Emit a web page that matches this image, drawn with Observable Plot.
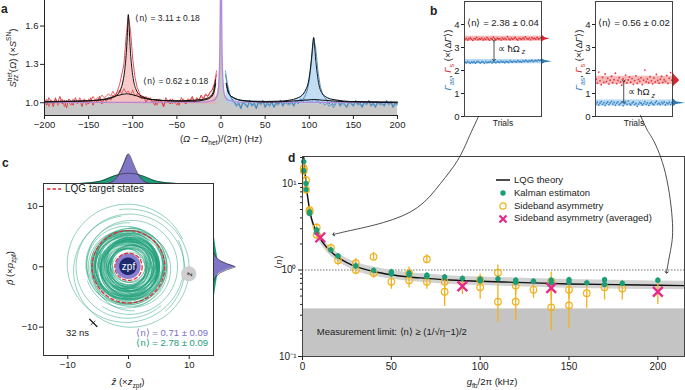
<!DOCTYPE html>
<html><head><meta charset="utf-8">
<script src="https://cdn.jsdelivr.net/npm/d3@7"></script>
<script src="https://cdn.jsdelivr.net/npm/@observablehq/plot@0.6"></script>
<style>
body{margin:0;background:#fff;}
#fig{position:relative;width:685px;height:390px;overflow:hidden;font-family:"Liberation Sans",Arial,sans-serif;color:#222;}
.lbl{position:absolute;font-size:9.5px;white-space:nowrap;transform:translate(-50%,-50%);line-height:1;}
.rot{transform:translate(-50%,-50%) rotate(-90deg);}
.letter{position:absolute;font-weight:bold;font-size:12px;line-height:1;}
sub,sup{font-size:70%;line-height:0;}
.ss{display:inline-flex;flex-direction:column;font-size:68%;line-height:0.95;vertical-align:middle;}
.leg{position:absolute;font-size:9.5px;line-height:12.8px;white-space:nowrap;}
.leg svg{vertical-align:middle;margin-right:4px;}
</style></head><body><div id="fig"></div>
<script>
// ---------------- DATA ----------------
// Panel a: heterodyne spectra, x grid 2.5 Hz
const redGridStart = -200, blueGridStart = 5, gridStep = 2.5;
const redHigh = [1.02,0.98,1.04,1.01,0.97,1.03,1.00,1.05,0.99,1.02,0.96,1.03,1.01,0.98,1.04,1.00,1.02,0.97,1.03,1.01,0.99,1.04,0.98,1.02,1.00,1.05,0.99,1.03,1.01,
  1.04,1.02,1.06,1.05,1.09,1.14,1.22,1.30,1.52,1.68,1.56,1.34,1.2,1.12,1.08,1.03,1.05,1.00,1.04,1.02,
  1.01,0.98,1.03,1.00,1.02,0.97,1.04,1.01,0.99,1.03,1.00,1.02,0.98,1.04,1.01,0.99,1.03,1.02,1.05,1.00,1.04,1.02,1.06,1.03,1.07,1.05,1.08,1.1,1.14,1.22];
const redLow = [1.00,1.03,0.97,1.02,0.99,1.04,0.98,1.01,1.03,0.97,1.02,1.00,0.98,1.03,1.01,0.99,1.04,1.00,1.02,0.98,1.03,1.01,1.05,1.02,1.04,1.03,1.06,1.04,1.05,
  1.07,1.05,1.09,1.06,1.08,1.10,1.07,1.11,1.08,1.09,1.06,1.10,1.05,1.07,1.04,1.06,1.03,1.05,1.02,1.04,
  1.00,1.02,0.98,1.03,1.01,0.97,1.02,1.00,1.03,0.99,1.01,0.98,1.02,1.00,1.03,0.99,1.02,1.01,1.04,1.00,1.03,1.02,1.05,1.03,1.06,1.05,1.08,1.1,1.15,1.25];
const blueHigh = [1.22,1.12,1.06,1.03,1.01,0.98,1.00,0.96,1.01,0.99,
  0.97,1.02,0.98,1.00,0.96,1.01,0.99,1.02,0.97,1.00,
  0.98,1.01,0.97,1.00,0.99,1.02,0.98,1.01,1.00,0.99,
  1.01,0.98,1.02,1.00,1.03,1.02,1.05,1.09,1.17,1.32,
  1.51,1.42,1.24,1.13,1.07,1.04,1.02,0.99,1.01,0.98,
  1.00,1.02,0.98,1.01,0.99,0.97,1.01,1.00,0.98,1.02,
  0.99,1.00,0.97,1.01,0.99,1.02,0.98,1.00,0.97,1.01,
  0.99,1.00,0.98,1.02,0.99,1.01,0.97,1.00,0.99];
const blueLow = [1.25,1.14,1.07,1.02,1.00,0.97,0.99,0.95,1.00,0.98,
  0.96,1.01,0.97,0.99,0.95,1.00,0.98,1.01,0.96,0.99,
  0.97,1.00,0.96,0.99,0.98,1.01,0.97,1.00,0.99,0.98,
  1.00,0.97,1.01,0.99,1.02,1.00,1.03,1.01,1.02,1.00,
  1.03,1.01,1.02,0.99,1.01,0.98,1.00,0.97,0.99,0.96,
  0.99,1.01,0.97,1.00,0.98,0.96,1.00,0.99,0.97,1.01,
  0.98,0.99,0.96,1.00,0.98,1.01,0.97,0.99,0.96,1.00,
  0.98,0.99,0.97,1.01,0.98,1.00,0.96,0.99,0.98];
const fitRedHighX = [-200,-170,-150,-135,-125,-118,-114,-111,-109,-107,-106,-105,-104,-103,-101,-99,-96,-92,-86,-78,-65,-50,-35,-22,-14,-9,-6];
const fitRedHighY = [1.01,1.012,1.015,1.022,1.035,1.06,1.10,1.17,1.26,1.42,1.55,1.69,1.58,1.44,1.27,1.17,1.10,1.06,1.04,1.025,1.018,1.015,1.018,1.025,1.04,1.08,1.18];
const fitRedLowX = [-200,-170,-150,-135,-125,-118,-112,-107,-102,-96,-90,-82,-72,-60,-45,-30,-20,-12,-8,-6];
const fitRedLowY = [1.005,1.01,1.015,1.025,1.04,1.055,1.065,1.07,1.065,1.055,1.04,1.028,1.02,1.015,1.012,1.012,1.02,1.04,1.08,1.15];
const fitBlueHighX = [6,9,14,22,35,50,65,78,86,92,96,99,101,103,104,105,106,107,109,111,114,118,124,132,145,165,200];
const fitBlueHighY = [1.15,1.07,1.04,1.02,1.012,1.01,1.012,1.02,1.035,1.06,1.10,1.16,1.25,1.38,1.46,1.51,1.45,1.36,1.23,1.14,1.08,1.05,1.03,1.02,1.01,1.008,1.005];
const fitBlueLowX = [6,9,14,22,35,50,70,85,95,105,115,125,140,160,200];
const fitBlueLowY = [1.15,1.07,1.04,1.02,1.01,1.005,1.008,1.015,1.02,1.025,1.02,1.015,1.008,1.005,1.0];
const shotX = [-200,-20,-10,-5,-3,-2,-1,-0.5,0,0.5,1,2,3,5,10,20,200];
const shotY = [0.99,0.995,1.0,1.05,1.12,1.25,1.6,1.95,1.95,1.95,1.6,1.25,1.12,1.05,1.0,0.995,0.99];
const centralX = [-200,-20,-8,-4,-2,-1,-0.5,0,0.5,1,2,4,8,20,200];
const centralY = [1.0,1.005,1.02,1.06,1.2,1.5,1.9,2.0,1.9,1.5,1.2,1.06,1.02,1.005,1.0];
const aTicksX = [-200,-150,-100,-50,0,50,100,150,200];
const aTicksY = [1.0,1.3,1.6];

// Panel b: scattering rates per trial
const bLeftRed = [3.35,3.40,3.33,3.38,3.42,3.36,3.31,3.39,3.37,3.44,3.34,3.38,3.36,3.41,3.33,3.39,3.35,3.43,3.37,3.32,3.40,3.36,3.45,3.38,3.34,3.41,3.37,3.39,3.33,3.42,3.36,3.40,3.35,3.47,3.38,3.34,3.41,3.36,3.39,3.44,3.37,3.33,3.40,3.38,3.35,3.42,3.37,3.46,3.39,3.36,3.41,3.34,3.43,3.38,3.40,3.36,3.44,3.37,3.39,3.42];
const bLeftBlue = [2.36,2.33,2.39,2.35,2.31,2.37,2.34,2.38,2.32,2.36,2.40,2.35,2.33,2.38,2.36,2.31,2.39,2.34,2.37,2.35,2.40,2.33,2.38,2.36,2.34,2.39,2.37,2.35,2.41,2.36,2.38,2.34,2.40,2.37,2.35,2.42,2.38,2.36,2.41,2.39,2.37,2.43,2.38,2.40,2.36,2.42,2.39,2.44,2.41,2.38,2.43,2.40,2.45,2.39,2.42,2.44,2.41,2.46,2.43,2.45];
const bRightRed = [1.62,1.45,1.93,1.55,1.38,1.70,1.48,1.85,1.52,1.66,1.41,1.58,1.75,1.47,1.60,1.88,1.43,1.57,1.69,1.50,1.36,1.63,1.54,1.80,1.46,1.59,1.72,1.49,1.65,1.40,1.56,1.77,1.44,1.61,1.53,1.68,1.39,1.58,2.02,1.51,1.64,1.47,1.73,1.55,1.42,1.67,1.50,1.83,1.57,1.45,1.62,1.74,1.48,1.60,1.53,1.79,1.44,1.66,1.91,1.58];
const bRightBlue = [0.55,0.62,0.50,0.58,0.65,0.53,0.60,0.48,0.57,0.63,0.52,0.59,0.66,0.54,0.61,0.49,0.58,0.64,0.51,0.57,0.62,0.47,0.56,0.60,0.53,0.67,0.55,0.50,0.59,0.63,0.52,0.57,0.45,0.54,0.61,0.58,0.50,0.56,0.64,0.53,0.59,0.48,0.57,0.62,0.55,0.51,0.60,0.66,0.54,0.58,0.52,0.61,0.56,0.63,0.50,0.59,0.55,0.62,0.53,0.60];
const bLeftBands = [{lo:3.27,hi:3.49,c:"red"},{lo:2.29,hi:2.48,c:"blue"}];
const bRightBands = [{lo:1.40,hi:1.75,c:"red"},{lo:0.45,hi:0.72,c:"blue"}];
const bLeftRedDensY = [3.23,3.32,3.37,3.43,3.57], bLeftRedDensW = [0,2.5,6.5,2.5,0];
const bLeftBlueDensY = [2.26,2.34,2.38,2.43,2.51], bLeftBlueDensW = [0,3,8.5,3,0];
const bRightRedDensY = [1.2,1.35,1.45,1.52,1.56,1.6,1.68,1.8,1.95], bRightRedDensW = [0,1.5,3.5,5,5.5,5,3.5,1.5,0];
const bRightBlueDensY = [0.40,0.52,0.58,0.64,0.80], bRightBlueDensW = [0,3,10,3,0];
const bTitles = ["⟨n⟩ = 2.38 ± 0.04", "⟨n⟩ = 0.56 ± 0.02"];
const bTicks = [0,1,2,3,4];

// Panel c: phase-space loops [r start, r end, centre z, centre p]
const loops = [[3.0,3.6,0.3,-0.2],[3.6,4.4,-0.2,0.3],[4.4,5.0,0.4,0.1],[5.0,4.2,-0.3,-0.4],[4.2,3.4,0.1,0.5],[3.4,4.6,-0.5,0.2],[4.6,5.6,0.2,-0.3],[5.6,5.2,0.5,0.4],[5.2,4.0,-0.4,0.1],[4.0,3.2,0.3,-0.5],[3.2,3.8,-0.1,0.4],[3.8,4.8,0.6,0.2],[4.8,5.8,-0.2,-0.6],[5.8,6.4,0.1,0.3],[6.4,5.4,-0.6,0.2],[5.4,4.4,0.4,-0.2],[4.4,3.6,-0.3,-0.3],[3.6,2.8,0.2,0.4],[2.8,3.4,-0.4,-0.1],[3.4,4.2,0.5,-0.4],[4.2,5.2,-0.1,0.5],[5.2,6.0,0.3,0.2],[6.0,6.8,-0.3,-0.2],[6.8,6.2,0.6,-0.5],[6.2,5.0,-0.5,0.6],[5.0,4.6,0.2,-0.1],[4.6,3.9,-0.2,0.2],[3.9,4.9,0.4,0.6],[4.9,5.5,-0.6,-0.3],[5.5,4.7,0.1,-0.6],[4.7,3.8,0.5,0.3],[3.8,3.0,-0.3,0.1],[3.0,4.0,0.2,-0.3],[4.0,5.3,-0.4,0.4],[5.3,6.3,0.4,0.0],[6.3,7.0,-0.2,0.3],
  [2.2,2.9,0.2,0.1],[2.9,3.5,-0.3,-0.2],[3.5,3.1,0.4,0.3],[3.1,2.5,-0.2,0.4],[2.5,3.3,0.1,-0.4],[3.3,4.1,0.5,0.0],[4.1,3.7,-0.5,-0.3],[3.7,4.5,0.0,0.6],[4.5,5.1,0.3,-0.2],[5.1,5.7,-0.4,0.1],[5.7,5.0,0.2,0.5],[5.0,4.3,0.6,-0.1],[4.3,4.9,-0.1,-0.5],[4.9,5.9,0.0,0.2],[5.9,6.5,0.3,-0.3],[6.5,5.8,-0.4,0.4],[5.8,4.8,0.1,0.0],[4.8,4.1,-0.2,-0.4],[4.1,3.3,0.4,0.2],[3.3,2.6,0.0,-0.1],[2.6,3.8,-0.3,0.3],[3.8,4.4,0.2,0.4],[4.4,5.4,-0.5,-0.1],[5.4,6.1,0.4,0.3],[6.1,5.6,0.0,-0.5],[5.6,4.5,-0.3,0.2],[4.5,3.5,0.5,-0.3],[3.5,4.3,-0.1,0.0],[4.3,5.0,0.2,-0.6],[5.0,5.5,-0.6,0.5],
  [7.0,8.2,0.3,0.2],[8.2,9.4,0.0,-0.2],[9.4,10.1,-0.3,0.4],[10.1,9.0,0.2,-0.5]];
const targetRadii = [2.25, 6.0];
const zpfRadius = 1.45, cooledRadius = 2.1;
const probe = {z:10.0, p:-1.25, r:1.25};
const topGreenX = [-8,-6,-4.5,-3.5,-2.5,-1.5,0,1.5,2.5,3.5,4.5,6,8], topGreenH = [0,0.15,0.4,0.8,1.2,1.5,1.7,1.5,1.2,0.8,0.4,0.15,0];
const topPurpleX = [-3.5,-2.5,-1.8,-1.2,-0.7,-0.3,0,0.3,0.7,1.2,1.8,2.5,3.5], topPurpleH = [0,0.4,1.2,2.3,3.5,4.5,4.9,4.5,3.5,2.3,1.2,0.4,0];
const rightGreenY = [-7,-5,-3.5,-2,-1,0,1,2,3.5,5,7], rightGreenW = [0,0.15,0.35,0.6,0.75,0.8,0.75,0.6,0.35,0.15,0];
const rightPurpleY = [-2.5,-1.6,-1.0,-0.5,-0.2,0,0.2,0.5,1.0,1.6,2.5], rightPurpleW = [0,0.4,1.1,2.2,3.1,3.6,3.1,2.2,1.1,0.4,0];
const cTexts = ["⟨n⟩ = 0.71 ± 0.09", "⟨n⟩ = 2.78 ± 0.09"];

// Panel d: occupation vs feedback gain
const kalX = [0.7,0.7,2,2,4,4,8,8,16,20,30,40,50,50,60,60,70,70,80,90,100,100,110,120,120,130,140,140,150,150,160,170,170,180,200];
const kalY = [17.9,14,10,8.5,4.7,4.5,2.9,2.7,1.7,1.45,1.11,0.99,0.95,0.9,0.92,0.88,0.87,0.84,0.83,0.8,0.78,0.75,0.79,0.76,0.72,0.74,0.76,0.71,0.77,0.72,0.71,0.77,0.68,0.7,0.76];
const sbX = [0.7,0.7,2,2,4,4,8,8,16,20,30,30,40,40,50,60,60,70,70,80,80,100,100,110,110,120,120,130,140,140,150,150,160,170,180];
const sbY = [15,14,10.9,8.5,4.9,4.7,3.1,2.55,1.8,1.3,1.2,1.0,1.42,0.92,0.73,0.92,0.76,1.33,0.73,0.73,0.56,0.77,0.63,0.93,0.43,0.66,0.43,0.59,0.74,0.37,0.59,0.39,0.54,0.63,0.61];
const sbLo = [13,12.5,9.5,7.5,4.4,4.2,2.8,2.3,1.6,1.12,1.05,0.88,1.3,0.8,0.6,0.78,0.62,1.2,0.6,0.58,0.38,0.64,0.46,0.8,0.25,0.52,0.26,0.47,0.55,0.2,0.46,0.21,0.36,0.45,0.45];
const sbHi = [16.5,15.5,12,9.5,5.4,5.2,3.4,2.8,2.0,1.48,1.36,1.12,1.6,1.05,0.88,1.08,0.9,1.5,0.86,0.88,0.68,0.9,0.8,1.14,0.68,0.8,0.64,0.72,0.95,0.77,0.73,0.8,0.7,0.8,0.76];
const avgX = [10,90,140,200], avgY = [2.38,0.65,0.62,0.56], avgLo = [2.2,0.52,0.45,0.4], avgHi = [2.6,0.8,0.8,0.72];
const thX = [0.5,1,1.5,2,3,4,5,6,8,10,12,15,20,25,30,40,50,60,70,80,100,120,150,180,215];
const thY = [22,17,13,10,6.8,5.0,4.0,3.4,2.7,2.3,2.0,1.7,1.4,1.22,1.1,0.96,0.88,0.83,0.8,0.77,0.74,0.72,0.69,0.675,0.66];
const thLo = [20,15.5,11.8,9.1,6.2,4.5,3.6,3.05,2.42,2.05,1.78,1.51,1.24,1.08,0.97,0.85,0.78,0.74,0.71,0.685,0.66,0.64,0.615,0.6,0.59];
const thHi = [24,18.6,14.2,11,7.4,5.5,4.4,3.75,2.98,2.55,2.22,1.89,1.56,1.36,1.23,1.08,0.99,0.93,0.9,0.865,0.83,0.81,0.775,0.755,0.74];
const measLimit = 0.355;
const dTicksX = [0,50,100,150,200];
const dMajor = [0.1,1,10], dMajorLabels = ["10⁻¹","10⁰","10¹"];
const dMinor = [0.2,0.3,0.4,0.5,0.6,0.7,0.8,0.9,2,3,4,5,6,7,8,9,20];

// connector arrows b -> d (figure pixel space)
const arrowLeft = [[478,116],[471,131],[467,140],[457,160],[440,183],[417,207],[383,222],[350,230],[333,234]];
const arrowRight = [[640,115],[647,130],[653,140],[665,173],[672,223],[670,250],[666,272]];

// ---------------- HELPERS ----------------
const fig = document.getElementById("fig");
const FONT = "Liberation Sans, Arial, sans-serif";
const baseStyle = {fontFamily: FONT, fontSize: "9.5px", background: "transparent", color: "#222", overflow: "visible"};
function place(el, left, top) { el.style.position = "absolute"; el.style.left = left + "px"; el.style.top = top + "px"; fig.append(el); return el; }
function html(cls, h, x, y, extra = "") { const d = document.createElement("div"); d.className = cls; d.innerHTML = h; d.style.left = x + "px"; d.style.top = y + "px"; if (extra) d.style.cssText += extra; fig.append(d); return d; }
const zip = (xs, ys, kx = "x", ky = "y") => xs.map((v, i) => ({[kx]: v, [ky]: ys[i]}));
const gridSeries = (start, vals) => vals.map((v, i) => ({x: start + i * gridStep, y: v}));
function spiral(id, r0, r1, cx, cy, ph) { const pts = []; for (let k = 0; k <= 60; k++) { const t = k / 60, a = ph - 2 * Math.PI * t, r = r0 + (r1 - r0) * t; pts.push({id, x: cx + r * Math.cos(a), y: cy + r * Math.sin(a)}); } return pts; }
function disk(cx, cy, r) { return d3.range(0, 81).map(k => { const x = cx - r + 2 * r * k / 80; const h = Math.sqrt(Math.max(0, r * r - (x - cx) ** 2)); return {x, y1: cy - h, y2: cy + h}; }); }

const RED = "#d9262c", BLUE = "#2b7bba", GREEN = "#1b9e77", PURPLE = "#7b70c2";

// ---------------- PANEL A ----------------
{
  const fitRH = zip(fitRedHighX, fitRedHighY), fitRL = zip(fitRedLowX, fitRedLowY);
  const fitBH = zip(fitBlueHighX, fitBlueHighY), fitBL = zip(fitBlueLowX, fitBlueLowY);
  const p = Plot.plot({
    width: 405, height: 135, marginLeft: 44, marginRight: 8, marginTop: 0, marginBottom: 20,
    style: baseStyle,
    x: {domain: [-200, 200]}, y: {domain: [0.9, 1.8]},
    marks: [
      Plot.areaY(zip(shotX, shotY), {x: "x", y1: 0.9, y2: "y", fill: "#c8c8c8", clip: true}),
      Plot.areaY(fitRL, {x: "x", y1: 0.99, y2: "y", fill: "#f3b0b0", fillOpacity: 0.35, curve: "monotone-x"}),
      Plot.areaY(fitRH, {x: "x", y1: 0.99, y2: "y", fill: "#f2a9a9", fillOpacity: 0.6, curve: "monotone-x"}),
      Plot.areaY(fitBH, {x: "x", y1: 0.99, y2: "y", fill: "#a9cfee", fillOpacity: 0.7, curve: "monotone-x"}),
      Plot.line(gridSeries(redGridStart, redLow), {x: "x", y: "y", stroke: "#e8474a", strokeWidth: 0.8}),
      Plot.line(gridSeries(redGridStart, redHigh), {x: "x", y: "y", stroke: RED, strokeWidth: 0.8}),
      Plot.line(gridSeries(blueGridStart, blueLow), {x: "x", y: "y", stroke: "#4a90cc", strokeWidth: 0.8}),
      Plot.line(gridSeries(blueGridStart, blueHigh), {x: "x", y: "y", stroke: BLUE, strokeWidth: 0.8}),
      Plot.line(zip(centralX, centralY), {x: "x", y: "y", stroke: "#b08ad8", strokeWidth: 1.3, clip: true, curve: "monotone-x"}),
      Plot.line(fitRL, {x: "x", y: "y", stroke: "#111", strokeWidth: 1, curve: "monotone-x"}),
      Plot.line(fitRH, {x: "x", y: "y", stroke: "#111", strokeWidth: 1, curve: "monotone-x"}),
      Plot.line(fitBL, {x: "x", y: "y", stroke: "#111", strokeWidth: 1, curve: "monotone-x"}),
      Plot.line(fitBH, {x: "x", y: "y", stroke: "#111", strokeWidth: 1, curve: "monotone-x"}),
      Plot.text(["⟨n⟩ = 3.11 ± 0.18"], {x: -97, y: 1.66, textAnchor: "start", fontSize: 8.5}),
      Plot.text(["⟨n⟩ = 0.62 ± 0.18"], {x: -88, y: 1.17, textAnchor: "start", fontSize: 8.5}),
      Plot.ruleX([-200], {y1: 0.9, y2: 1.8, stroke: "#222"}),
      Plot.ruleY([0.9], {stroke: "#222"}),
      Plot.axisX({ticks: aTicksX, tickSize: 4, tickPadding: 2, label: null}),
      Plot.axisY({ticks: aTicksY, tickSize: 4, tickPadding: 2, tickFormat: ".1f", label: null})
    ]
  });
  place(p, 0, 0);
}

// ---------------- PANEL B ----------------
function panelB(red, blue, bands, rd, bd, title, arrowT, arrowY, propY) {
  const n = red.length;
  const fills = {red: "#f5b8b8", blue: "#b8d8f1"};
  return Plot.plot({
    width: 125, height: 135, marginLeft: 34, marginRight: 14, marginTop: 1, marginBottom: 19,
    style: baseStyle,
    x: {domain: [0, n], axis: null}, y: {domain: [0, 5]},
    marks: [
      Plot.rect(bands, {x1: 0, x2: n, y1: "lo", y2: "hi", fill: d => fills[d.c]}),
      Plot.dot(red.map((v, i) => ({t: i + 0.5, v})), {x: "t", y: "v", r: 0.9, fill: "#e3353b", stroke: null}),
      Plot.dot(blue.map((v, i) => ({t: i + 0.5, v})), {x: "t", y: "v", r: 0.9, fill: "#3a86c8", stroke: null}),
      Plot.areaX(rd, {y: "y", x1: n, x2: d => n + d.w, fill: RED, curve: "linear"}),
      Plot.areaX(bd, {y: "y", x1: n, x2: d => n + d.w, fill: BLUE, curve: "linear"}),
      Plot.link([{t: arrowT, a: arrowY[0], b: arrowY[1]}], {x1: "t", x2: "t", y1: "a", y2: "b", stroke: "#222", strokeWidth: 0.8, markerStart: "arrow", markerEnd: "arrow"}),
      Plot.text(["∝ ħΩ"], {x: arrowT + 3, y: propY, textAnchor: "start", fontSize: 9.5}),
      Plot.text(["z"], {x: arrowT + 3, y: propY, dx: 24, dy: 3, textAnchor: "start", fontSize: 7, fontStyle: "italic"}),
      Plot.text([title], {frameAnchor: "top", dy: 18, fontSize: 9.5}),
      Plot.text(["Trials"], {frameAnchor: "bottom", dy: 9, fontSize: 8.5}),
      Plot.frame({stroke: "#444"}),
      Plot.axisY({ticks: bTicks, tickSize: 3, tickPadding: 2, tickFormat: "d", label: null})
    ]
  });
}
place(panelB(bLeftRed, bLeftBlue, bLeftBands, zip(bLeftRedDensY, bLeftRedDensW, "y", "w"), zip(bLeftBlueDensY, bLeftBlueDensW, "y", "w"), bTitles[0], 23, [3.3, 2.45], 2.95), 430, 0);
place(panelB(bRightRed, bRightBlue, bRightBands, zip(bRightRedDensY, bRightRedDensW, "y", "w"), zip(bRightBlueDensY, bRightBlueDensW, "y", "w"), bTitles[1], 22, [1.55, 0.62], 1.05), 561, 0);

// ---------------- PANEL C ----------------
{
  const traj = loops.flatMap((l, i) => spiral(i, l[0], l[1], l[2], l[3], i * 1.3));
  const circles = targetRadii.flatMap((r, i) => spiral("c" + i, r, r, 0, 0, 0));
  const yTop = 13.8, xRight = 14;
  const p = Plot.plot({
    width: 260, height: 250, marginLeft: 43, marginRight: 47, marginTop: 43, marginBottom: 35,
    style: baseStyle,
    x: {domain: [-14, 14]}, y: {domain: [-14.7, 13.8]},
    marks: [
      Plot.line(traj, {x: "x", y: "y", z: "id", stroke: GREEN, strokeWidth: 0.55, strokeOpacity: 0.85, curve: "natural"}),
      Plot.areaY(disk(0, 0, cooledRadius), {x: "x", y1: "y1", y2: "y2", fill: "#8a7fd0"}),
      Plot.areaY(disk(0, 0, zpfRadius), {x: "x", y1: "y1", y2: "y2", fill: "#1d2a6e"}),
      Plot.line(circles, {x: "x", y: "y", z: "id", stroke: "#e8282e", strokeWidth: 1.2, strokeDasharray: "3.5,2.5"}),
      Plot.text(["zpf"], {x: 0, y: 0, fill: "white", fontSize: 10}),
      Plot.areaY(disk(probe.z, probe.p, probe.r), {x: "x", y1: "y1", y2: "y2", fill: "#cfcfcf"}),
      Plot.text(["ẑ"], {x: probe.z, y: probe.p, rotate: -90, fontSize: 8, fontStyle: "italic"}),
      Plot.areaY(zip(topGreenX, topGreenH, "x", "h"), {x: "x", y1: yTop, y2: d => yTop + d.h, fill: GREEN}),
      Plot.areaY(zip(topPurpleX, topPurpleH, "x", "h"), {x: "x", y1: yTop, y2: d => yTop + d.h, fill: "#7f77c6"}),
      Plot.line(zip(topGreenX, topGreenH, "x", "h"), {x: "x", y: d => yTop + d.h, stroke: "#222", strokeWidth: 0.6, curve: "natural"}),
      Plot.line(zip(topPurpleX, topPurpleH, "x", "h"), {x: "x", y: d => yTop + d.h, stroke: "#222", strokeWidth: 0.6, curve: "natural"}),
      Plot.areaX(zip(rightGreenY, rightGreenW, "y", "w"), {y: "y", x1: xRight, x2: d => xRight + d.w, fill: GREEN}),
      Plot.areaX(zip(rightPurpleY, rightPurpleW, "y", "w"), {y: "y", x1: xRight, x2: d => xRight + d.w, fill: "#7f77c6"}),
      Plot.line(zip(rightPurpleY, rightPurpleW, "y", "w"), {x: d => xRight + d.w, y: "y", stroke: "#222", strokeWidth: 0.6}),
      Plot.line([{x: -6.4, y: -8.7}, {x: -5.2, y: -9.9}], {x: "x", y: "y", stroke: "#222", strokeWidth: 1.3}),
      Plot.line([{x: -6.2, y: -9.6}, {x: -5.5, y: -9.0}], {x: "x", y: "y", stroke: "#222", strokeWidth: 0.8}),
      Plot.text(["32 ns"], {x: -8.4, y: -11.0, fontSize: 9.5}),
      Plot.text([cTexts[0]], {x: 13.1, y: -10.9, textAnchor: "end", fill: PURPLE, fontSize: 9.5}),
      Plot.text([cTexts[1]], {x: 13.1, y: -12.6, textAnchor: "end", fill: GREEN, fontSize: 9.5}),
      Plot.frame({stroke: "#333"}),
      Plot.axisX({ticks: [-10, 0, 10], tickSize: 4, tickPadding: 2, label: null}),
      Plot.axisY({ticks: [-10, 0, 10], tickSize: 4, tickPadding: 2, label: null})
    ]
  });
  place(p, 0, 140);
}

// ---------------- PANEL D ----------------
{
  const kal = zip(kalX, kalY);
  const sb = sbX.map((x, i) => ({x, y: sbY[i], lo: sbLo[i], hi: sbHi[i]}));
  const avg = avgX.map((x, i) => ({x, y: avgY[i], lo: avgLo[i], hi: avgHi[i]}));
  const th = thX.map((x, i) => ({x, y: thY[i], lo: thLo[i], hi: thHi[i]}));
  const p = Plot.plot({
    width: 415, height: 250, marginLeft: 32, marginRight: 1, marginTop: 16, marginBottom: 34,
    style: {...baseStyle, fontSize: "10px"},
    x: {domain: [0, 215]}, y: {type: "log", domain: [0.1, 20.5]},
    marks: [
      Plot.rect([measLimit], {x1: 0, x2: 215, y1: 0.1, y2: d => d, fill: "#c4c4c4"}),
      Plot.ruleY([1], {stroke: "#333", strokeWidth: 0.7, strokeDasharray: "1.5,1.5"}),
      Plot.areaY(th, {x: "x", y1: "lo", y2: "hi", fill: "#d2d2d2", curve: "monotone-x", clip: true}),
      Plot.line(th, {x: "x", y: "y", stroke: "#111", strokeWidth: 1.4, curve: "monotone-x", clip: true}),
      Plot.ruleX(sb, {x: "x", y1: "lo", y2: "hi", stroke: "#f0b21b", strokeWidth: 1.3}),
      Plot.ruleX(avg, {x: "x", y1: "lo", y2: "hi", stroke: "#f0b21b", strokeWidth: 1.3}),
      Plot.dot(sb, {x: "x", y: "y", r: 3.3, stroke: "#f0b21b", strokeWidth: 1.2, fill: "none"}),
      Plot.ruleX(kal, {x: "x", y1: d => d.y * 0.93, y2: d => d.y * 1.07, stroke: GREEN, strokeWidth: 1.2}),
      Plot.dot(kal, {x: "x", y: "y", r: 2.7, fill: GREEN, stroke: null}),
      Plot.dot(avg, {x: "x", y: "y", r: 4.5, symbol: "times", stroke: "#e7298a", strokeWidth: 2.4}),
      Plot.text(["Measurement limit: ⟨n⟩ ≥ (1/√η−1)/2"], {x: 8, y: 0.19, textAnchor: "start", fontSize: 9.5}),
      Plot.frame({stroke: "#444"}),
      Plot.axisX({ticks: dTicksX, tickSize: 4, tickPadding: 2, label: null}),
      Plot.axisY({ticks: dMajor, tickSize: 4, tickPadding: 2, tickFormat: d => dMajorLabels[dMajor.indexOf(d)], label: null}),
      Plot.axisY({ticks: dMinor, tickSize: 2, tickFormat: () => "", label: null})
    ]
  });
  place(p, 270, 140);
}

// ---------------- OVERLAY ARROWS ----------------
{
  const pts = [...arrowLeft.map(([x, y]) => ({id: "L", x, y})), ...arrowRight.map(([x, y]) => ({id: "R", x, y}))];
  const p = Plot.plot({
    width: 685, height: 390, margin: 0, style: {background: "transparent", overflow: "visible"},
    x: {type: "identity", axis: null}, y: {type: "identity", axis: null},
    marks: [Plot.line(pts, {x: "x", y: "y", z: "id", curve: "natural", stroke: "#222", strokeWidth: 0.8, markerEnd: "arrow"})]
  });
  p.style.pointerEvents = "none";
  place(p, 0, 0);
}

// ---------------- HTML TEXT: labels, letters, legends ----------------
html("letter", "a", 1, 3);
html("letter", "b", 430, 5);
html("letter", "c", 2, 157);
html("letter", "d", 288, 152);
html("lbl rot", "<i>S</i><span class='ss'><span>het</span><span><i>zz</i></span></span>(<i>Ω</i>) (×<i>S</i><sup>SN</sup>)", 13, 58);
html("lbl", "(<i>Ω</i> − <i>Ω</i><sub>het</sub>)/(2π) (Hz)", 221, 139);
const bY = "<span style='color:#2b7bba'><i>Γ</i><sub>as</sub></span>, <span style='color:#d9262c'><i>Γ</i><sub>s</sub></span> (×⟨Δ<i>Γ</i>⟩)";
html("lbl rot", bY, 448, 60);
html("lbl rot", bY, 579, 60);
html("lbl rot", "<i>p̂</i> (×<i>p</i><sub>zpf</sub>)", 10, 268);
html("lbl", "<i>ẑ</i> (×<i>z</i><sub>zpf</sub>)", 128, 382);
html("lbl rot", "⟨<i>n</i>⟩", 279, 262);
html("lbl", "<i>g</i><sub>fb</sub>/2π (kHz)", 492, 382);
html("leg", "<svg width='14' height='8'><line x1='0' y1='4' x2='14' y2='4' stroke='#e8282e' stroke-width='1.3' stroke-dasharray='3.5,2'/></svg>LQG target states", 47, 183, "font-size:10px");
html("leg",
  "<div><svg width='14' height='8'><line x1='0' y1='4' x2='14' y2='4' stroke='#111' stroke-width='1.5'/></svg>LQG theory</div>" +
  "<div><svg width='14' height='8'><circle cx='7' cy='4' r='2.7' fill='#1b9e77'/></svg>Kalman estimaton</div>" +
  "<div><svg width='14' height='8'><circle cx='7' cy='4' r='3.1' fill='none' stroke='#f0b21b' stroke-width='1.2'/></svg>Sideband asymmetry</div>" +
  "<div><svg width='14' height='8'><path d='M3.5,0.5L10.5,7.5M10.5,0.5L3.5,7.5' stroke='#e7298a' stroke-width='2.2'/></svg>Sideband asymmetry (averaged)</div>",
  496, 174);
</script></body></html>
